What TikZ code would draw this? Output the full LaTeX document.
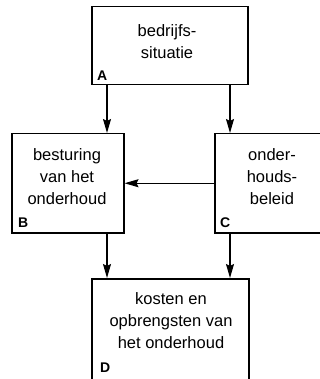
\documentclass[tikz,border=0pt]{standalone}
\usepackage{fontspec}
\setmainfont{Liberation Sans}
\usetikzlibrary{arrows.meta}
\begin{document}
\begin{tikzpicture}[x=1pt,y=-1pt,
  box/.style={draw,line width=1.5pt,inner sep=0pt,anchor=north west},
  txt/.style={inner sep=0pt,anchor=north,align=center,font=\fontsize{16.5}{22}\selectfont},
  lbl/.style={inner sep=0pt,anchor=base west,font=\fontsize{14}{14}\bfseries\selectfont},
  arr/.style={line width=1.3pt,-{Stealth[length=14pt,width=8pt,inset=2pt]}}]
\path[use as bounding box,clip] (0,0) rectangle (320,379);
\fill[white] (0,0) rectangle (320,379);
% boxes
\node[box,minimum width=156pt,minimum height=78pt] (A) at (91,6) {};
\node[box,minimum width=112pt,minimum height=99pt] (B) at (11,133) {};
\node[box,minimum width=110pt,minimum height=99pt] (C) at (214,133) {};
\node[box,minimum width=157pt,minimum height=110pt] (D) at (91,278) {};
% texts
\node[txt] (tA) at (167,24) {bedrijfs-\\situatie};
\node[txt] (tB) at (67,148) {besturing\\van het\\onderhoud};
\node[txt] (tC) at (272,148) {onder-\\houds-\\beleid};
\node[txt] (tD) at (171,292) {kosten en\\opbrengsten van\\het onderhoud};
% labels
\node[lbl] (lA) at (97,81) {A};
\node[lbl] (lB) at (18,227) {B};
\node[lbl] (lC) at (220,227) {C};
\node[lbl] (lD) at (100,372) {D};
% connectors
\coordinate (a1) at ([xshift=16pt]A.south west);
\coordinate (a2) at ([xshift=139pt]A.south west);
\coordinate (d1) at ([xshift=16pt]D.north west);
\coordinate (d2) at ([xshift=139pt]D.north west);
\draw[arr] (a1) -- (a1 |- B.north);
\draw[arr] (a2) -- (a2 |- C.north);
\draw[arr] (C.west) -- (C.west -| B.east);
\draw[arr] (d1 |- B.south) -- (d1);
\draw[arr] (d2 |- C.south) -- (d2);
\end{tikzpicture}
\end{document}
